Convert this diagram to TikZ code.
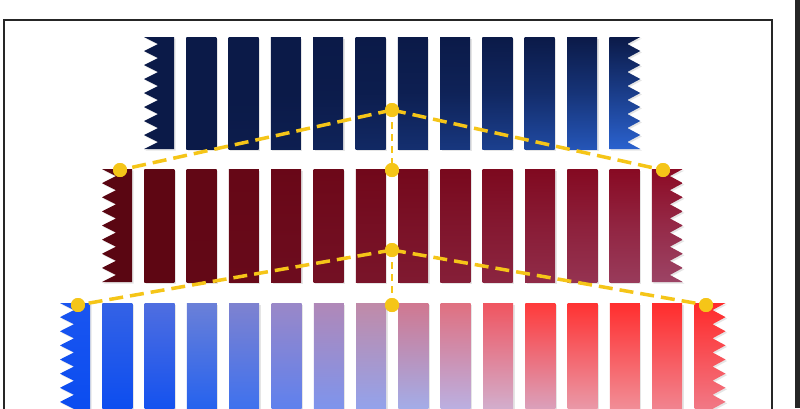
\documentclass[tikz,border=0pt]{standalone}
\usepackage{tikz}
\usetikzlibrary{calc}
\definecolor{navybar}{HTML}{0B1A48}
\definecolor{navylow}{HTML}{2D68DA}
\definecolor{maroonl}{HTML}{5A0612}
\definecolor{maroonr}{HTML}{8C0A24}
\definecolor{maroonlow}{HTML}{9E4A6C}
\definecolor{guideyellow}{HTML}{F5C518}

\newcommand{\plainbar}[3]{%
  \fill[barshadow] ($(#1,#2)+(1.5,1.5)$) rectangle ++(30,#3);
  \shade[top color=bartop,bottom color=barbot,middle color=barmid] (#1,#2) rectangle ++(30,#3);}
\newcommand{\zigleft}[3]{%
  \fill[barshadow,shift={(1.5pt,-1.5pt)}] (#1+30,#2) -- (#1,#2)
    \foreach \k in {1,...,8} { -- (#1+14,#2+#3*\k/8-#3/16) -- (#1,#2+#3*\k/8) }
    -- (#1+30,#2+#3) -- cycle;
  \shade[top color=bartop,bottom color=barbot,middle color=barmid] (#1+30,#2) -- (#1,#2)
    \foreach \k in {1,...,8} { -- (#1+14,#2+#3*\k/8-#3/16) -- (#1,#2+#3*\k/8) }
    -- (#1+30,#2+#3) -- cycle;}
\newcommand{\zigright}[3]{%
  \fill[barshadow,shift={(1.5pt,-1.5pt)}] (#1,#2) -- (#1+31,#2)
    \foreach \k in {1,...,8} { -- (#1+18,#2+#3*\k/8-#3/16) -- (#1+31,#2+#3*\k/8) }
    -- (#1,#2+#3) -- cycle;
  \shade[top color=bartop,bottom color=barbot,middle color=barmid] (#1,#2) -- (#1+31,#2)
    \foreach \k in {1,...,8} { -- (#1+18,#2+#3*\k/8-#3/16) -- (#1+31,#2+#3*\k/8) }
    -- (#1,#2+#3) -- cycle;}

\begin{document}
\begin{tikzpicture}[x=1pt,y=-1pt,
    barshadow/.style={fill=black!10},
    guide/.style={draw=guideyellow,line width=3.5pt,dash pattern=on 14pt off 7pt},
    stem/.style={draw=guideyellow,line width=2.8pt,dash pattern=on 7pt off 5pt},
    dot/.style={circle,fill=guideyellow,inner sep=0pt,minimum size=14pt}]
\useasboundingbox (0,0) rectangle (800,408);
\clip (0,0) rectangle (800,408);
\fill[white] (0,0) rectangle (800,408);
\draw[line width=1.6pt,black!85] (4,20) rectangle (772,440);
\fill[black!85] (795,0) rectangle (800,408);

\foreach \i in {0,...,11} {
  \pgfmathsetmacro\bx{144+42.3*\i}
  \pgfmathtruncatemacro\w{92*(\i/11)^2}
  \pgfmathtruncatemacro\m{45*(\i/11)^3}
  \colorlet{bartop}{navybar}
  \colorlet{barmid}{navylow!\m!navybar}
  \colorlet{barbot}{navylow!\w!navybar}
  \ifnum\i=0 \zigleft{\bx}{37}{112}\else\ifnum\i=11 \zigright{\bx}{37}{112}\else\plainbar{\bx}{37}{112}\fi\fi
}

\foreach \i in {0,...,13} {
  \pgfmathsetmacro\bx{102+42.3*\i}
  \pgfmathtruncatemacro\p{100*\i/13}
  \pgfmathtruncatemacro\w{90*(\i/13)^2}
  \colorlet{bartop}{maroonr!\p!maroonl}
  \colorlet{barmid}{maroonlow!\w!bartop}
  \colorlet{barmid}{barmid!55!bartop}
  \colorlet{barbot}{maroonlow!\w!bartop}
  \ifnum\i=0 \zigleft{\bx}{169}{113}\else\ifnum\i=13 \zigright{\bx}{169}{113}\else\plainbar{\bx}{169}{113}\fi\fi
}

\foreach \i/\ct/\cb in {0/1A55F0/0A4CF0, 1/3462E6/0A4CF0, 2/4F6EE0/1050F0, 3/6B80D8/2060F0,
    4/7E82D0/3A70F0, 5/9A88C8/5A80F0, 6/B088B8/7A95F0, 7/C08AA8/90A4F0,
    8/D07890/A0B0EE, 9/E07080/B8B4E8, 10/F05560/D0B4D4, 11/FF3A3A/D8A8C4,
    12/FF3232/E8A0B0, 13/FF2E2E/F0949E, 14/FF2C2C/F08A96, 15/FF2A2A/F07E8C} {
  \pgfmathsetmacro\bx{60+42.3*\i}
  \definecolor{bartop}{HTML}{\ct}
  \definecolor{barbot}{HTML}{\cb}
  \colorlet{barmid}{bartop!50!barbot}
  \ifnum\i=0 \zigleft{\bx}{303}{113}\else\ifnum\i=15 \zigright{\bx}{303}{113}\else\plainbar{\bx}{303}{113}\fi\fi
}

\node[dot] (apextop) at (392,110) {};
\node[dot] (midtop) at (392,170) {};
\node[dot] (lefttop) at (120,170) {};
\node[dot] (righttop) at (663,170) {};
\node[dot] (apexlow) at (392,250) {};
\node[dot] (midlow) at (392,305) {};
\node[dot] (leftlow) at (78,305) {};
\node[dot] (rightlow) at (706,305) {};

\path[guide] (apextop.center) -- (lefttop.center);
\path[guide] (apextop.center) -- (righttop.center);
\path[stem] (apextop.center) -- (midtop.center);
\path[guide] (apexlow.center) -- (leftlow.center);
\path[guide] (apexlow.center) -- (rightlow.center);
\path[stem] (apexlow.center) -- (midlow.center);

\foreach \d in {apextop,midtop,lefttop,righttop,apexlow,midlow,leftlow,rightlow}
  \fill[guideyellow] (\d) circle (7);
\end{tikzpicture}
\end{document}
